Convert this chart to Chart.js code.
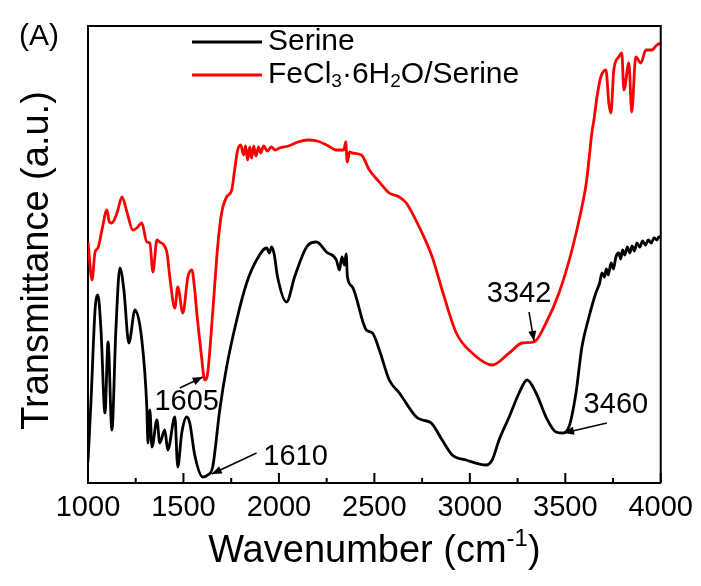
<!DOCTYPE html>
<html>
<head>
<meta charset="utf-8">
<script src="https://cdn.jsdelivr.net/npm/chart.js@4.4.1/dist/chart.umd.min.js"></script>
<style>
  html, body { margin: 0; padding: 0; background: #ffffff; }
  canvas { display: block; }
</style>
</head>
<body>
<canvas id="c" width="701" height="586"></canvas>
<script>
// ---- Data ----
const serineWavenumber = [1000,1016,1037,1052,1068,1089,1105,1125,1146,1167,1188,1214,1246,1282,1308,1314,1324,1335,1361,1376,1402,1418,1455,1470,1491,1517,1533,1559,1601,1627,1653,1690,1726,1779,1831,1883,1936,1950,1962,1975,1993,2040,2082,2145,2197,2249,2301,2317,2330,2343,2352,2359,2385,2458,2490,2526,2578,2631,2720,2751,2798,2855,2908,2981,3085,3117,3153,3206,3258,3300,3347,3399,3451,3483,3519,3556,3587,3624,3660,3680,3692,3705,3715,3725,3740,3752,3765,3780,3790,3800,3812,3825,3838,3850,3862,3875,3890,3905,3920,3935,3950,3965,3980,3990,4000];
const serineValue = [21,83,173,188,153,70,141,53,153,215,193,140,173,143,76,40,73,36,63,40,53,33,66,16,50,66,60,28,6,8,16,73,116,163,200,223,235,230,236,229,206,181,206,236,241,231,223,213,226,218,229,206,196,153,150,133,103,90,66,63,60,43,28,23,18,23,43,66,90,103,90,66,51,50,56,90,136,166,190,200,210,206,214,208,220,214,226,230,224,233,228,236,230,237,232,240,236,242,238,243,240,245,243,246,246];

const feWavenumber = [1000,1021,1037,1052,1073,1099,1112,1125,1152,1178,1204,1235,1256,1282,1308,1324,1340,1361,1376,1413,1429,1455,1470,1497,1523,1544,1559,1570,1591,1612,1627,1653,1679,1700,1726,1753,1768,1784,1800,1815,1825,1836,1847,1857,1868,1880,1893,1905,1920,1940,1960,1980,2003,2050,2100,2150,2200,2250,2300,2340,2350,2358,2370,2385,2432,2474,2526,2578,2631,2667,2735,2803,2855,2929,3012,3117,3206,3274,3336,3399,3467,3535,3587,3610,3624,3639,3650,3666,3686,3713,3728,3739,3754,3780,3796,3807,3833,3848,3869,3896,3922,3953,3979,4000];
const feValue = [241,203,231,235,253,273,261,260,270,286,271,253,255,260,241,240,211,243,241,231,205,175,196,170,206,213,193,170,133,103,110,170,236,270,286,293,313,333,338,328,337,323,336,325,337,327,336,330,337,332,336,333,335,337,341,343,342,338,333,333,341,321,331,330,328,313,301,290,286,280,256,226,193,150,130,118,130,140,141,160,190,233,276,300,323,350,363,386,406,413,380,370,413,426,430,393,420,371,426,420,433,433,438,440];

const seriesLabels = ["Serine", "FeCl3·6H2O/Serine"];
const xTickLabels = [1000, 1500, 2000, 2500, 3000, 3500, 4000];
const xMinorTicks = [1250, 1750, 2250, 2750, 3250, 3750];

// Peak annotations: label, arrow tip (wavenumber, value), arrow tail, text centre
const peakLabels = ["1605", "1610", "3342", "3460"];
const peakTip = [[1601,106],[1648,9],[3336,142],[3493,50]];
const peakTail = [[1481,95],[1883,30],[3310,171],[3718,60]];
const peakText = [[1517,81],[2087,26],[3258,189],[3765,78]];

const FONT = "'Liberation Sans', Arial, sans-serif";

function toXY(xs, ys) { return xs.map((x, i) => ({ x: x, y: ys[i] })); }

function arrow(ctx, x1, y1, x2, y2) {
  ctx.beginPath(); ctx.moveTo(x1, y1); ctx.lineTo(x2, y2); ctx.stroke();
  const a = Math.atan2(y2 - y1, x2 - x1), L = 10, W = 4;
  ctx.beginPath(); ctx.moveTo(x2, y2);
  ctx.lineTo(x2 - L * Math.cos(a) + W * Math.sin(a), y2 - L * Math.sin(a) - W * Math.cos(a));
  ctx.lineTo(x2 - L * Math.cos(a) - W * Math.sin(a), y2 - L * Math.sin(a) + W * Math.cos(a));
  ctx.closePath(); ctx.fill();
}

function richText(ctx, parts, x, y, size) {
  let cx = x;
  parts.forEach(p => {
    const t = p[0], mode = p[1] || "n";
    if (mode === "n") { ctx.font = size + "px " + FONT; ctx.fillText(t, cx, y); }
    else if (mode === "sub") { ctx.font = Math.round(size * 0.62) + "px " + FONT; ctx.fillText(t, cx, y + size * 0.22); }
    else { ctx.font = Math.round(size * 0.62) + "px " + FONT; ctx.fillText(t, cx, y - size * 0.42); }
    cx += ctx.measureText(t).width;
  });
  return cx - x;
}
function richWidth(ctx, parts, size) {
  let w = 0;
  parts.forEach(p => { ctx.font = (p[1] && p[1] !== "n" ? Math.round(size * 0.62) : size) + "px " + FONT; w += ctx.measureText(p[0]).width; });
  return w;
}

const decor = {
  id: "decor",
  afterDraw(chart) {
    const ctx = chart.ctx, a = chart.chartArea, xs = chart.scales.x, ys = chart.scales.y;
    ctx.save();
    ctx.strokeStyle = "#000000"; ctx.fillStyle = "#000000"; ctx.lineWidth = 2;
    // top and right frame
    ctx.beginPath(); ctx.moveTo(a.left, a.top); ctx.lineTo(a.right, a.top); ctx.lineTo(a.right, a.bottom); ctx.stroke();
    // inward ticks on the bottom axis
    xTickLabels.forEach(v => { const px = xs.getPixelForValue(v); ctx.fillRect(px - 1, a.bottom - 10, 2, 10); });
    xMinorTicks.forEach(v => { const px = xs.getPixelForValue(v); ctx.fillRect(px - 1, a.bottom - 5, 2, 5); });
    // peak annotations
    ctx.lineWidth = 1.5; ctx.textAlign = "center"; ctx.textBaseline = "middle"; ctx.font = "29px " + FONT;
    peakLabels.forEach((lab, i) => {
      ctx.fillText(lab, xs.getPixelForValue(peakText[i][0]), ys.getPixelForValue(peakText[i][1]));
      arrow(ctx, xs.getPixelForValue(peakTail[i][0]), ys.getPixelForValue(peakTail[i][1]),
                 xs.getPixelForValue(peakTip[i][0]), ys.getPixelForValue(peakTip[i][1]));
    });
    // legend
    const legendParts = [[[seriesLabels[0], "n"]],
      [["FeCl", "n"], ["3", "sub"], ["·6H", "n"], ["2", "sub"], ["O/Serine", "n"]]];
    const legY = [42, 75];
    ctx.textAlign = "left"; ctx.textBaseline = "middle";
    chart.data.datasets.forEach((ds, i) => {
      ctx.strokeStyle = ds.borderColor; ctx.lineWidth = 3;
      ctx.beginPath(); ctx.moveTo(192, legY[i]); ctx.lineTo(262, legY[i]); ctx.stroke();
      ctx.fillStyle = "#000"; richText(ctx, legendParts[i], 268, legY[i], 30);
    });
    // panel label
    ctx.font = "30px " + FONT; ctx.textBaseline = "alphabetic"; ctx.fillText("(A)", 19, 45);
    // x axis title
    const xt = [["Wavenumber (cm", "n"], ["-1", "sup"], [")", "n"]];
    const w = richWidth(ctx, xt, 38);
    richText(ctx, xt, (a.left + a.right) / 2 - w / 2, 562, 38);
    // y axis title
    ctx.save(); ctx.translate(48, (a.top + a.bottom) / 2 + 6); ctx.rotate(-Math.PI / 2);
    ctx.textAlign = "center"; ctx.textBaseline = "alphabetic"; ctx.font = "38px " + FONT;
    ctx.fillText("Transmittance (a.u.)", 0, 0);
    ctx.restore();
    ctx.restore();
  }
};

new Chart(document.getElementById("c"), {
  type: "line",
  data: { datasets: [
    { label: seriesLabels[0], data: toXY(serineWavenumber, serineValue), borderColor: "#000000", borderWidth: 2.8, pointRadius: 0, cubicInterpolationMode: "monotone", fill: false },
    { label: seriesLabels[1], data: toXY(feWavenumber, feValue), borderColor: "#ff0000", borderWidth: 2.8, pointRadius: 0, cubicInterpolationMode: "monotone", fill: false }
  ] },
  options: {
    responsive: false, animation: false, events: [],
    layout: { padding: { left: 0, right: 39, top: 26, bottom: 0 } },
    plugins: { legend: { display: false }, tooltip: { enabled: false } },
    scales: {
      x: { type: "linear", min: 1000, max: 4000,
        afterFit: s => { s.height = 103; },
        afterBuildTicks: s => { s.ticks = xTickLabels.map(v => ({ value: v })); },
        grid: { display: false, drawTicks: false },
        border: { display: true, color: "#000", width: 2 },
        ticks: { autoSkip: false, maxRotation: 0, padding: 8, color: "#000", callback: v => String(v), font: { family: FONT, size: 29 } } },
      y: { min: 0, max: 457, afterFit: s => { s.width = 88; },
        grid: { display: false, drawTicks: false },
        border: { display: true, color: "#000", width: 2 },
        ticks: { display: false } }
    }
  },
  plugins: [decor]
});
</script>
</body>
</html>
